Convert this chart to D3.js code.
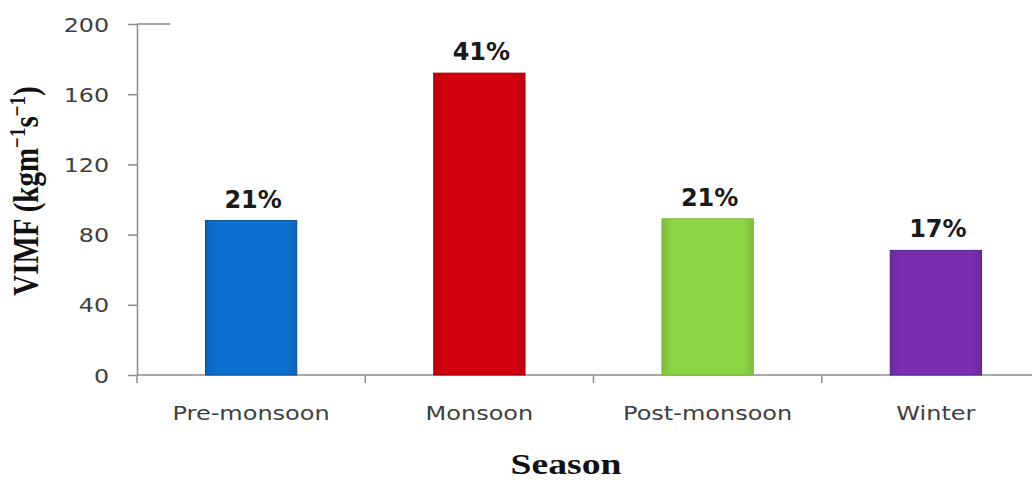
<!DOCTYPE html>
<html>
<head>
<meta charset="utf-8">
<script src="https://cdn.jsdelivr.net/npm/d3@7"></script>
<style>
  html, body { margin: 0; padding: 0; background: #fff; }
  svg { display: block; }
</style>
</head>
<body>
<svg id="chart" width="1032" height="480"></svg>
<script>
// Seasonal vertically integrated moisture flux
const seasons = ["Pre-monsoon", "Monsoon", "Post-monsoon", "Winter"];
const vimf = [88, 172, 89, 71];
const barColors = ["#0b70cf", "#d2000f", "#8ed645", "#7a2fb2"];
const barEdges = ["#0d4f8e", "#a3000c", "#78b53a", "#55208a"];
const yTicks = [0, 40, 80, 120, 160, 200];

const svg = d3.select("#chart");
const W = 1032, H = 480;
const plotLeft = 137, plotRight = 1050, plotTop = 24, plotBottom = 375;
const axisColor = "#8c8c8c";
const stretch = 1.2; // wide lettering of the axis text

svg.append("rect").attr("width", W).attr("height", H).attr("fill", "#fff");

const x = d3.scaleBand().domain(seasons).range([plotLeft, plotRight])
  .paddingInner(0.6).paddingOuter(0.3);
const xCat = d3.scaleBand().domain(seasons).range([plotLeft, plotRight]).padding(0);
const y = d3.scaleLinear().domain([0, 200]).range([plotBottom, plotTop]);

// subtle shading across each bar
const defs = svg.append("defs");
seasons.forEach((s, i) => {
  const g = defs.append("linearGradient").attr("id", "bar" + i)
    .attr("x1", "0").attr("x2", "1").attr("y1", "0").attr("y2", "0");
  const c = d3.color(barColors[i]);
  g.append("stop").attr("offset", "0%").attr("stop-color", c.darker(0.35));
  g.append("stop").attr("offset", "12%").attr("stop-color", c);
  g.append("stop").attr("offset", "88%").attr("stop-color", c);
  g.append("stop").attr("offset", "100%").attr("stop-color", c.darker(0.35));
});

// y axis
const yAxis = svg.append("g").attr("transform", `translate(${plotLeft},0)`)
  .call(d3.axisLeft(y).tickValues(yTicks).tickSize(9).tickSizeOuter(0).tickFormat(d3.format("d")));
yAxis.select(".domain").attr("stroke", axisColor).attr("stroke-width", 1.5);
yAxis.selectAll(".tick line").attr("stroke", axisColor).attr("stroke-width", 1.5);
yAxis.selectAll(".tick text")
  .attr("x", null).attr("dy", null)
  .attr("transform", `translate(-28,7) scale(${stretch + 0.05},1)`)
  .attr("font-family", "'DejaVu Sans', sans-serif").attr("font-size", 19)
  .attr("fill", "#404040").attr("text-anchor", "end");
// short cap line at the top of the value axis
svg.append("line").attr("x1", plotLeft).attr("x2", 170)
  .attr("y1", y(200)).attr("y2", y(200))
  .attr("stroke", axisColor).attr("stroke-width", 1.5);

// x axis
const xAxis = svg.append("g").attr("transform", `translate(0,${plotBottom})`);
xAxis.append("line").attr("x1", plotLeft).attr("x2", W).attr("y1", 0).attr("y2", 0)
  .attr("stroke", axisColor).attr("stroke-width", 1.5);
const boundaries = seasons.map(s => xCat(s)).concat([xCat(seasons[3]) + xCat.bandwidth()]);
xAxis.selectAll("line.tick").data(boundaries).enter().append("line")
  .attr("class", "tick")
  .attr("x1", d => d).attr("x2", d => d).attr("y1", 0).attr("y2", 8)
  .attr("stroke", axisColor).attr("stroke-width", 1.5);
xAxis.selectAll("text").data(seasons).enter().append("text")
  .attr("transform", d => `translate(${xCat(d) + xCat.bandwidth() / 2},45) scale(${stretch},1)`)
  .attr("text-anchor", "middle")
  .attr("font-family", "'DejaVu Sans', sans-serif").attr("font-size", 20)
  .attr("fill", "#404040").text(d => d);

// bars
const data = seasons.map((s, i) => ({ season: s, value: vimf[i], i }));
svg.append("g").selectAll("rect").data(data).enter().append("rect")
  .attr("x", d => x(d.season))
  .attr("width", x.bandwidth())
  .attr("y", d => y(d.value))
  .attr("height", d => y(0) - y(d.value))
  .attr("fill", d => `url(#bar${d.i})`)
  .attr("stroke", d => barEdges[d.i]).attr("stroke-width", 1);

// share of each season in the annual total
const total = d3.sum(vimf);
svg.append("g").selectAll("text").data(data).enter().append("text")
  .attr("x", d => x(d.season) + x.bandwidth() / 2 + 2)
  .attr("y", d => y(d.value) - 13)
  .attr("text-anchor", "middle")
  .attr("font-family", "'DejaVu Sans', sans-serif").attr("font-weight", "bold")
  .attr("font-size", 24).attr("fill", "#1a1a1a")
  .text(d => Math.round(d.value / total * 100) + "%");

// axis titles
const yTitle = svg.append("text")
  .attr("transform", `translate(38,191) scale(1.25,1) rotate(-90)`)
  .attr("text-anchor", "middle")
  .attr("font-family", "'Liberation Serif', 'Times New Roman', serif")
  .attr("font-weight", "bold").attr("font-size", 29).attr("fill", "#111");
yTitle.append("tspan").text("VIMF (kgm");
yTitle.append("tspan").attr("baseline-shift", "super").attr("font-size", 19).text("−1");
yTitle.append("tspan").text("s");
yTitle.append("tspan").attr("baseline-shift", "super").attr("font-size", 19).text("−1");
yTitle.append("tspan").text(")");

svg.append("text")
  .attr("transform", `translate(566,474) scale(1.3,1)`)
  .attr("text-anchor", "middle")
  .attr("font-family", "'Liberation Serif', 'Times New Roman', serif")
  .attr("font-weight", "bold").attr("font-size", 29).attr("fill", "#111")
  .text("Season");
</script>
</body>
</html>
